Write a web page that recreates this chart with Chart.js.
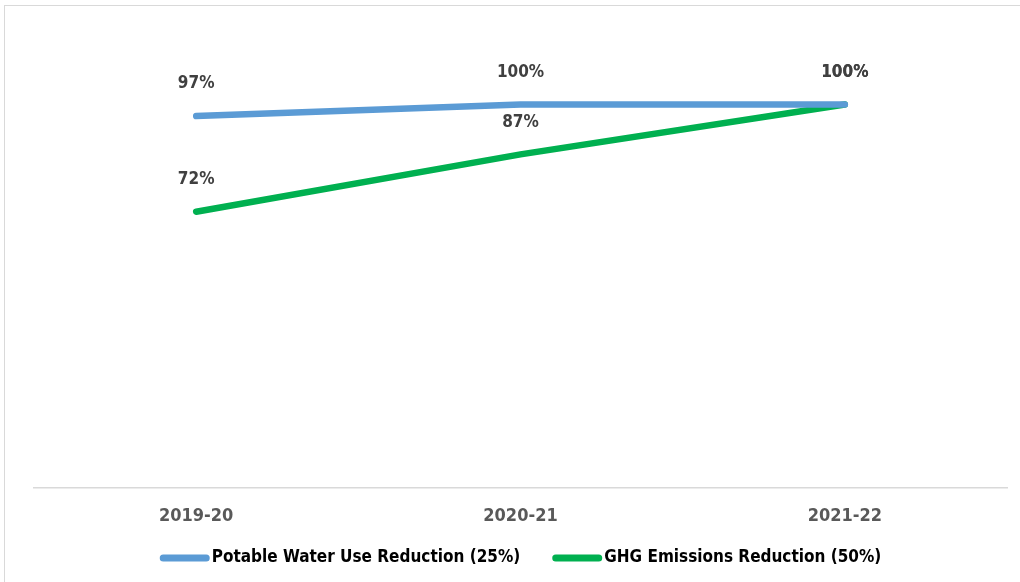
<!DOCTYPE html>
<html>
<head>
<meta charset="utf-8">
<script src="https://cdn.jsdelivr.net/npm/chart.js@4"></script>
<style>
  html, body { margin: 0; padding: 0; background: #fff; }
  #wrap { position: relative; width: 1020px; height: 582px; overflow: hidden; }
  #frame { position: absolute; left: 4px; top: 5px; width: 1100px; height: 700px; border: 1px solid #d9d9d9; }
  #container { position: absolute; left: 0; top: 0; }
</style>
</head>
<body>
<div id="wrap">
  <div id="frame"></div>
  <canvas id="container" width="1020" height="582"></canvas>
</div>
<script>
let ctx = document.getElementById('container').getContext('2d');
let labels = ['2019-20', '2020-21', '2021-22'];
let waterValues = [97, 100, 100];
let ghgValues = [72, 87, 100];
let seriesNames = ['Potable Water Use Reduction (25%)', 'GHG Emissions Reduction (50%)'];
let colorHex = ['#5B9BD5', '#00B050'];
let fontFamily = "'DejaVu Sans Condensed', 'Liberation Sans Narrow', sans-serif";

// labels drawn above each point (no datalabels plugin offline)
const pointLabels = {
  id: 'pointLabels',
  afterDatasetsDraw(chart) {
    const c = chart.ctx;
    c.save();
    c.font = 'bold 17px ' + fontFamily;
    c.fillStyle = '#404040';
    c.textAlign = 'center';
    c.textBaseline = 'middle';
    chart.data.datasets.forEach((ds, i) => {
      chart.getDatasetMeta(i).data.forEach((pt, j) => {
        c.fillText(ds.data[j] + '%', pt.x, pt.y - 32);
      });
    });
    c.restore();
  }
};

// legend with line swatches, drawn close to the text like the original
const lineLegend = {
  id: 'lineLegend',
  afterDraw(chart) {
    const c = chart.ctx;
    const area = chart.chartArea;
    c.save();
    c.font = 'bold 17px ' + fontFamily;
    c.textBaseline = 'middle';
    c.textAlign = 'left';
    const sw = 50, gap = 2, between = 32, y = 558;
    const widths = chart.data.datasets.map(ds => c.measureText(ds.label).width);
    let total = 0;
    widths.forEach((w, i) => { total += sw + gap + w + (i ? between : 0); });
    let x = (area.left + area.right) / 2 - total / 2;
    chart.data.datasets.forEach((ds, i) => {
      c.strokeStyle = ds.borderColor;
      c.lineWidth = 7;
      c.lineCap = 'round';
      c.beginPath();
      c.moveTo(x + 3.5, y);
      c.lineTo(x + sw - 3.5, y);
      c.stroke();
      c.fillStyle = '#000';
      c.fillText(ds.label, x + sw + gap, y);
      x += sw + gap + widths[i] + between;
    });
    c.restore();
  }
};

let myChart = new Chart(ctx, {
  type: 'line',
  data: {
    labels: labels,
    datasets: [{
      label: seriesNames[0],
      data: waterValues,
      borderColor: colorHex[0],
      backgroundColor: colorHex[0],
      borderWidth: 6.5,
      borderCapStyle: 'round',
      pointRadius: 0,
      tension: 0
    }, {
      label: seriesNames[1],
      data: ghgValues,
      borderColor: colorHex[1],
      backgroundColor: colorHex[1],
      borderWidth: 6.5,
      borderCapStyle: 'round',
      pointRadius: 0,
      tension: 0
    }]
  },
  options: {
    responsive: false,
    animation: false,
    layout: { padding: { left: 34, right: 13, top: 28, bottom: 37 } },
    scales: {
      x: {
        offset: true,
        grid: { display: false, drawTicks: false },
        border: { color: '#d9d9d9', width: 1.5 },
        ticks: {
          color: '#595959',
          padding: 18,
          font: { family: fontFamily, size: 18, weight: 'bold' }
        }
      },
      y: {
        display: false,
        min: 0,
        max: 120
      }
    },
    plugins: {
      tooltip: { enabled: false },
      legend: { display: false }
    }
  },
  plugins: [pointLabels, lineLegend]
});
</script>
</body>
</html>
